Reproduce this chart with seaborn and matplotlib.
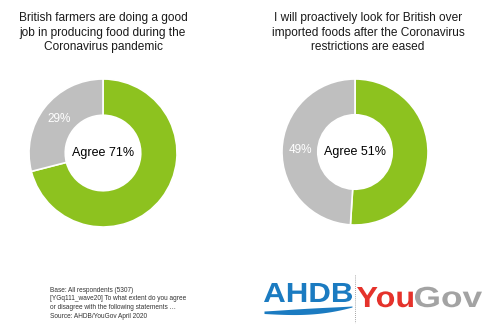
import numpy as np
import matplotlib
matplotlib.use("Agg")
import matplotlib.pyplot as plt
from matplotlib.textpath import TextPath
from matplotlib.patches import PathPatch
from matplotlib.font_manager import FontProperties
from matplotlib.transforms import Affine2D
import seaborn as sns

# Survey results (share who agree vs. the rest)
titles = [
    "British farmers are doing a good\njob in producing food during the\nCoronavirus pandemic",
    "I will proactively look for British over\nimported foods after the Coronavirus\nrestrictions are eased",
]
agree = [71, 51]
other = [29, 49]
segment_names = ["Agree", "Other"]

sns.set_theme(style="white")
plt.rcParams["font.family"] = ["Liberation Sans", "DejaVu Sans"]

palette = ["#8dc21f", "#bfbfbf"]

W, H = 488, 328
fig = plt.figure(figsize=(W / 100, H / 100), dpi=100)
fig.patch.set_facecolor("white")


def px_axes(cx, cy, r):
    """Square axes centred on pixel (cx, cy) with half-size r (pixels, y from top)."""
    return fig.add_axes([(cx - r) / W, 1 - (cy + r) / H, 2 * r / W, 2 * r / H])


centres = [(103, 153, 74), (355, 152, 73)]
title_x = [103, 368]

for i in range(2):
    cx, cy, r = centres[i]
    ax = px_axes(cx, cy, r)
    values = [agree[i], other[i]]
    labels = ["", f"{other[i]}%"]
    wedges, texts = ax.pie(
        values,
        colors=palette,
        startangle=90,
        counterclock=False,
        labels=labels,
        labeldistance=0.75,
        radius=1,
        wedgeprops=dict(width=0.49, edgecolor="white", linewidth=1.2),
        textprops=dict(color="white", fontsize=8.5, ha="center", va="center"),
    )
    for t in texts:
        t.set_horizontalalignment("center")
    ax.text(0, 0, f"{segment_names[0]} {agree[i]}%", ha="center", va="center",
            fontsize=9, color="black")
    ax.set_xlim(-1, 1)
    ax.set_ylim(-1, 1)
    ax.set_aspect("equal")
    ax.axis("off")

    fig.text(title_x[i] / W, 1 - 12 / H, titles[i], ha="center", va="top",
             fontsize=8.6, color="#1a1a1a", linespacing=1.3)

# Footnote
footnote = ("Base: All respondents (5307)\n"
            "[YGq111_wave20] To what extent do you agree\n"
            "or disagree with the following statements \u2026\n"
            "Source: AHDB/YouGov April 2020")
fig.text(50 / W, 1 - 287 / H, footnote, ha="left", va="top",
         fontsize=4.7, color="#333333", linespacing=1.3)

# Logo layer in pixel coordinates (y grows downward)
lg = fig.add_axes([0, 0, 1, 1])
lg.set_xlim(0, W)
lg.set_ylim(H, 0)
lg.axis("off")
lg.patch.set_alpha(0)


def fitted_text(s, x0, x1, cap_top, baseline, color, weight="bold"):
    """Draw s as a path scaled to span x0..x1 horizontally and cap_top..baseline vertically."""
    fp = FontProperties(family="Liberation Sans", weight=weight)
    tp = TextPath((0, 0), s, size=100, prop=fp)
    ext = tp.get_extents()
    cap = TextPath((0, 0), "H", size=100, prop=fp).get_extents().y1
    sx = (x1 - x0) / ext.width
    sy = (baseline - cap_top) / cap
    tr = Affine2D().translate(-ext.x0, 0).scale(sx, -sy).translate(x0, baseline)
    lg.add_patch(PathPatch(tr.transform_path(tp), color=color, lw=0))


fitted_text("AHDB", 264, 352, 283, 302, "#1b7bc1")
xs = np.linspace(264, 352, 120)
t = (xs - 264) / 88
upper = 311 - 1.5 * np.sin(np.pi * t) - 5 * t ** 2
lower = 313.5 + 1.5 * np.sin(np.pi * t) - 6.5 * t ** 3
lg.fill_between(xs, lower, upper, color="#1b7bc1", lw=0)

lg.plot([355, 355], [275, 323], color="#888888", lw=0.6, ls=(0, (1, 1.5)))
fitted_text("You", 357, 413, 287, 307, "#e5322b")
fitted_text("Gov", 415, 482, 287, 307, "#a3a3a3")

fig.savefig("out.png", dpi=100, facecolor="white")
